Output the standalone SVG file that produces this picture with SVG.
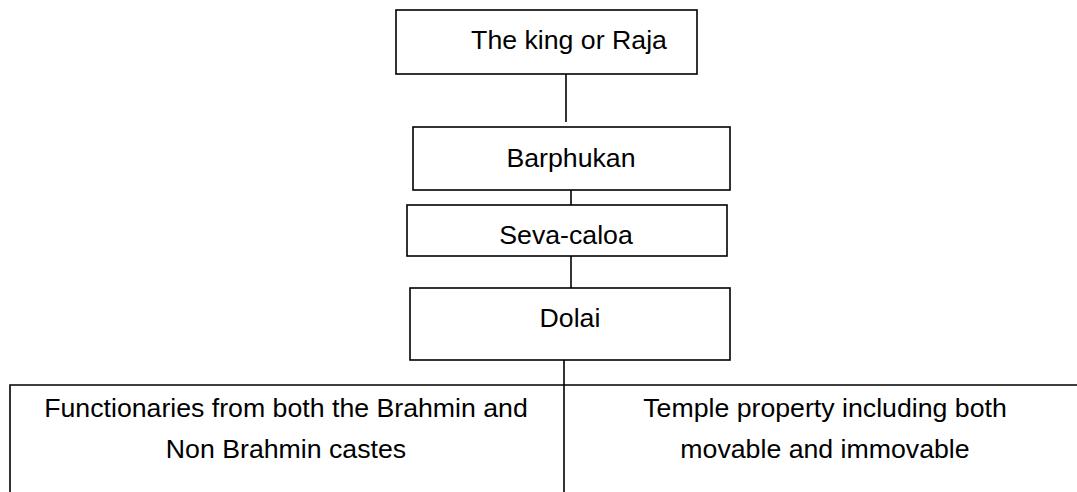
<svg xmlns="http://www.w3.org/2000/svg" width="1077" height="492" viewBox="0 0 1077 492">
<style>
.box{fill:#fff;stroke:#000;stroke-width:1.6}
.ln{stroke:#000;stroke-width:1.6;fill:none}
.t{font-family:"Liberation Sans",Arial,sans-serif;font-size:26.7px;fill:#000;text-anchor:middle}
</style>
<rect width="1077" height="492" fill="#fff"/>
<g id="node-king"><rect class="box" x="396" y="10" width="301" height="64"/><text class="t" x="569" y="49">The king or Raja</text></g>
<g id="node-barphukan"><rect class="box" x="413" y="127" width="317" height="63"/><text class="t" x="571" y="167">Barphukan</text></g>
<g id="node-sevacaloa"><rect class="box" x="407" y="205" width="320" height="51"/><text class="t" x="566" y="244">Seva-caloa</text></g>
<g id="node-dolai"><rect class="box" x="410" y="288" width="320" height="72"/><text class="t" x="570" y="327">Dolai</text></g>
<g id="node-bottom">
<path class="ln" d="M10,492 V385 H1077"/>
<text class="t" x="286" y="417">Functionaries from both the Brahmin and</text>
<text class="t" x="286" y="458">Non Brahmin castes</text>
<text class="t" x="825" y="417">Temple property including both</text>
<text class="t" x="825" y="458">movable and immovable</text>
</g>
<g id="connectors">
<line class="ln" x1="566" y1="74" x2="566" y2="122"/>
<line class="ln" x1="571" y1="190" x2="571" y2="205"/>
<line class="ln" x1="571" y1="256" x2="571" y2="288"/>
<line class="ln" x1="564" y1="360" x2="564" y2="492"/>
</g>
</svg>
